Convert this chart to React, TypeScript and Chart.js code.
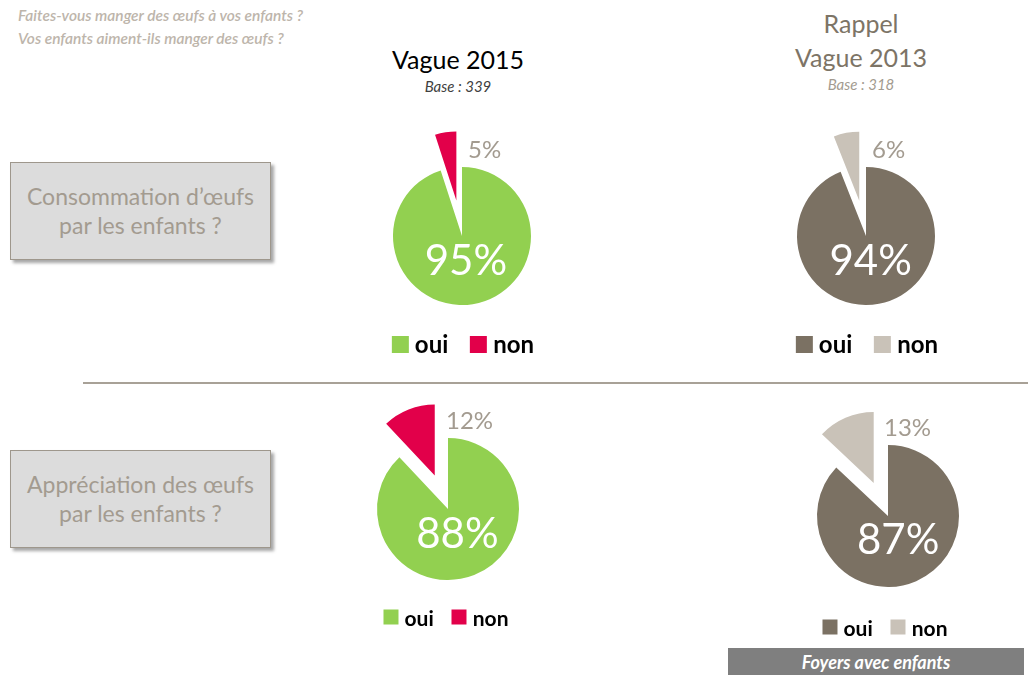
import React, { useEffect, useRef } from "react";
import { Chart, registerables } from "chart.js";

Chart.register(...registerables);

// ---- Data ----
const categories = ["oui", "non"];
const conso2015 = [95, 5];
const conso2013 = [94, 6];
const appreciation2015 = [88, 12];
const appreciation2013 = [87, 13];
const colors2015 = ["#92D050", "#E2004A"];
const colors2013 = ["#7B7163", "#C9C2B8"];

const FONT = "Lato, 'Open Sans', sans-serif";
const LABEL_GREY = "#A39B90";

// Moves the "non" slice outward along its mid angle
const explodePlugin = {
  id: "explodeSlice",
  afterDatasetUpdate(chart: any, args: any, opts: any) {
    const meta = args.meta;
    const dist = opts.distance || 0;
    meta.data.forEach((arc: any, i: number) => {
      if (i === opts.index) {
        const mid = (arc.startAngle + arc.endAngle) / 2;
        arc.x = arc.x + Math.cos(mid) * dist;
        arc.y = arc.y + Math.sin(mid) * dist;
      }
    });
  },
};

const labelPlugin = {
  id: "pieLabels",
  afterDatasetsDraw(chart: any, _args: any, opts: any) {
    const ctx = chart.ctx;
    const meta = chart.getDatasetMeta(0);
    const data = chart.data.datasets[0].data as number[];
    const cx = (chart.chartArea.left + chart.chartArea.right) / 2;
    const cy = (chart.chartArea.top + chart.chartArea.bottom) / 2;
    const big = meta.data[0];
    const r = big.outerRadius;
    const mid = (big.startAngle + big.endAngle) / 2;
    ctx.save();
    ctx.fillStyle = "#FFFFFF";
    ctx.font = `42px ${FONT}`;
    ctx.textAlign = "center";
    ctx.textBaseline = "middle";
    ctx.fillText(`${data[0]}%`, big.x + Math.cos(mid) * r * 0.36, big.y + Math.sin(mid) * r * 0.38);
    ctx.fillStyle = LABEL_GREY;
    ctx.font = `24px ${FONT}`;
    ctx.textAlign = "left";
    ctx.fillText(`${data[1]}%`, cx + opts.dx, cy - r - 17);
    ctx.restore();
  },
};

type PieProps = {
  values: number[];
  colors: string[];
  cx: number;
  cy: number;
  radius: number;
  labelDx: number;
};

function Pie({ values, colors, cx, cy, radius, labelDx }: PieProps) {
  const ref = useRef<HTMLCanvasElement>(null);
  useEffect(() => {
    if (!ref.current) return;
    const chart = new Chart(ref.current, {
      type: "pie",
      data: {
        labels: categories,
        datasets: [
          {
            data: values,
            backgroundColor: colors,
            borderWidth: 0,
          },
        ],
      },
      options: {
        responsive: false,
        animation: false,
        radius: radius,
        layout: { padding: 0 },
        plugins: {
          legend: { display: false },
          tooltip: { enabled: false },
          explodeSlice: { index: 1, distance: 36 },
          pieLabels: { dx: labelDx },
        } as any,
      } as any,
      plugins: [explodePlugin, labelPlugin],
    });
    return () => chart.destroy();
  }, []);
  const S = 240;
  return (
    <canvas
      ref={ref}
      width={S}
      height={S}
      style={{ position: "absolute", left: cx - S / 2, top: cy - S / 2, width: S, height: S }}
    />
  );
}

function Legend({ cx, cy, colors, size, box, gap }: { cx: number; cy: number; colors: string[]; size: number; box: number; gap: number }) {
  return (
    <div
      style={{
        position: "absolute",
        left: cx,
        top: cy,
        transform: "translate(-50%, -50%)",
        display: "flex",
        alignItems: "center",
        whiteSpace: "nowrap",
        fontFamily: FONT,
        fontWeight: 700,
        fontSize: size,
        color: "#000",
        lineHeight: 1,
      }}
    >
      {categories.map((c, i) => (
        <div key={c} style={{ display: "flex", alignItems: "center", marginLeft: i === 0 ? 0 : gap }}>
          <span style={{ display: "inline-block", width: box, height: box, background: colors[i], marginRight: 6 }} />
          <span>{c}</span>
        </div>
      ))}
    </div>
  );
}

function QBox({ top, lines }: { top: number; lines: string[] }) {
  return (
    <div
      style={{
        position: "absolute",
        left: 10,
        top,
        width: 259,
        height: 96,
        background: "#DCDCDC",
        border: "1px solid #9E978C",
        boxShadow: "3px 3px 3px rgba(0,0,0,0.35)",
        display: "flex",
        flexDirection: "column",
        justifyContent: "center",
        alignItems: "center",
        fontFamily: FONT,
        fontSize: 23,
        color: "#A39B90",
        lineHeight: "29px",
      }}
    >
      {lines.map((l) => (
        <div key={l}>{l}</div>
      ))}
    </div>
  );
}

function Text({ x, y, children, style }: { x: number; y: number; children: any; style: any }) {
  return (
    <div
      style={{
        position: "absolute",
        left: x,
        top: y,
        transform: "translate(-50%, -50%)",
        whiteSpace: "nowrap",
        fontFamily: FONT,
        lineHeight: 1,
        ...style,
      }}
    >
      {children}
    </div>
  );
}

export default function App() {
  return (
    <div
      style={{
        position: "fixed",
        left: 0,
        top: 0,
        width: 1028,
        height: 675,
        background: "#fff",
        overflow: "hidden",
      }}
    >
      <div
        style={{
          position: "absolute",
          left: 18,
          top: 4,
          fontFamily: FONT,
          fontStyle: "italic",
          fontSize: 15.5,
          lineHeight: "23px",
          color: "#BDB5AB",
          fontWeight: 600,
        }}
      >
        <div>Faites-vous manger des œufs à vos enfants ?</div>
        <div>Vos enfants aiment-ils manger des œufs ?</div>
      </div>

      <Text x={458} y={59} style={{ fontSize: 25, color: "#000" }}>Vague 2015</Text>
      <Text x={458} y={86} style={{ fontSize: 15, fontStyle: "italic", color: "#404040" }}>Base : 339</Text>

      <Text x={861} y={23} style={{ fontSize: 25, color: "#7D7466" }}>Rappel</Text>
      <Text x={861} y={57} style={{ fontSize: 25, color: "#7D7466" }}>Vague 2013</Text>
      <Text x={861} y={84} style={{ fontSize: 15, fontStyle: "italic", color: "#A39B90" }}>Base : 318</Text>

      <QBox top={162} lines={["Consommation d’œufs", "par les enfants ?"]} />
      <QBox top={450} lines={["Appréciation des œufs", "par les enfants ?"]} />

      <div style={{ position: "absolute", left: 83, top: 382, width: 945, height: 2, background: "#A8A197" }} />

      <Pie values={conso2015} colors={colors2015} cx={462} cy={236} radius={69} labelDx={6} />
      <Pie values={conso2013} colors={colors2013} cx={866} cy={236} radius={69} labelDx={6} />
      <Pie values={appreciation2015} colors={colors2015} cx={448} cy={509} radius={71} labelDx={-2} />
      <Pie values={appreciation2013} colors={colors2013} cx={888} cy={516} radius={71} labelDx={-4} />

      <Legend cx={463} cy={344} colors={colors2015} size={24} box={17} gap={22} />
      <Legend cx={867} cy={344} colors={colors2013} size={24} box={17} gap={22} />
      <Legend cx={446} cy={617} colors={colors2015} size={21} box={15} gap={18} />
      <Legend cx={885} cy={627} colors={colors2013} size={21} box={15} gap={18} />

      <div
        style={{
          position: "absolute",
          left: 728,
          top: 648,
          width: 296,
          height: 27,
          background: "#7F7F7F",
          color: "#fff",
          fontFamily: FONT,
          fontWeight: 700,
          fontStyle: "italic",
          fontSize: 18,
          display: "flex",
          alignItems: "center",
          justifyContent: "center",
        }}
      >
        Foyers avec enfants
      </div>
    </div>
  );
}
